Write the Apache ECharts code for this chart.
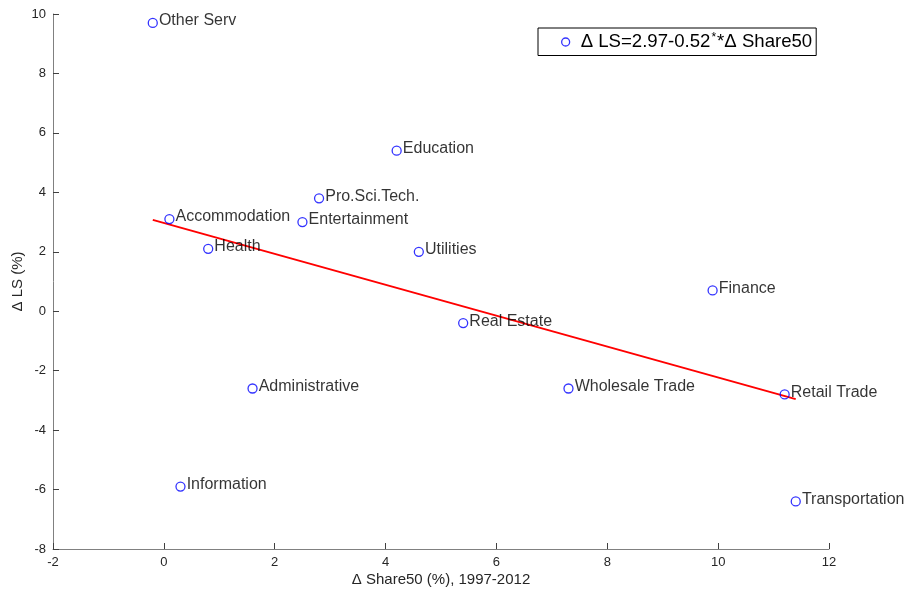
<!DOCTYPE html>
<html><head><meta charset="utf-8">
<script src="https://cdn.jsdelivr.net/npm/echarts@6/dist/echarts.min.js"></script>
<style>html,body{margin:0;padding:0;background:#fff}#c{width:906px;height:590px}</style>
</head><body><div id="c"></div>
<script>
const industries = ["Other Serv","Education","Pro.Sci.Tech.","Entertainment","Accommodation","Health","Utilities","Finance","Real Estate","Retail Trade","Wholesale Trade","Administrative","Information","Transportation"];
const share50Change = [-0.2,4.2,2.8,2.5,0.1,0.8,4.6,9.9,5.4,11.2,7.3,1.6,0.3,11.4];
const lsChange = [9.7,5.4,3.8,3.0,3.1,2.1,2.0,0.7,-0.4,-2.8,-2.6,-2.6,-5.9,-6.4];
const fitIntercept = 2.97, fitSlope = -0.52;
const xTicks = [-2,0,2,4,6,8,10,12];
const yTicks = [-8,-6,-4,-2,0,2,4,6,8,10];

const pts = industries.map((n,i)=>({name:n,value:[share50Change[i],lsChange[i]]}));
const xmin = Math.min(...share50Change), xmax = Math.max(...share50Change);
const fitLine = [[xmin, fitIntercept+fitSlope*xmin],[xmax, fitIntercept+fitSlope*xmax]];
const font = "Liberation Sans, Arial, Helvetica, sans-serif";
const axisCol = '#808080';
const chart = echarts.init(document.getElementById('c'));
chart.setOption({
  animation:false,
  textStyle:{fontFamily:font},
  grid:{left:53,right:77,top:14,bottom:41,containLabel:false,outerBoundsMode:'none'},
  legend:{
    left:538, top:28,
    orient:'horizontal',
    data:[{name:'fit', icon:'circle'}],
    itemWidth:8,itemHeight:8,itemGap:10,
    padding:[4,4,4,23],
    borderColor:'#000',borderWidth:1,backgroundColor:'#fff',
    formatter:()=> 'Δ LS=2.97-0.52{sup|*}*Δ Share50',
    textStyle:{fontSize:18.6,color:'#000',fontFamily:font,padding:[0,0,0,6],
      rich:{sup:{fontSize:12,verticalAlign:'top',padding:[0,1,8,1],color:'#000'}}},
    itemStyle:{color:'#fff',borderColor:'#0000ff',borderWidth:1.3}
  },
  xAxis:{
    type:'value',min:-2,max:12,interval:2,
    name:'Δ Share50 (%), 1997-2012',nameLocation:'middle',nameGap:23,nameMoveOverlap:false,
    nameTextStyle:{fontSize:15,color:'#262626',fontFamily:font},
    axisLine:{show:true,onZero:false,lineStyle:{color:axisCol,width:1}},
    axisTick:{show:true,inside:true,length:6,lineStyle:{color:'#404040'}},
    axisLabel:{fontSize:13,color:'#262626',margin:7,
      formatter:v=>xTicks.includes(v)?String(v):''},
    splitLine:{show:false}
  },
  yAxis:{
    type:'value',min:-8,max:10,interval:2,
    name:'Δ LS (%)',nameLocation:'middle',nameGap:28,nameRotate:90,nameMoveOverlap:false,
    nameTextStyle:{fontSize:15,color:'#262626',fontFamily:font},
    axisLine:{show:true,onZero:false,lineStyle:{color:axisCol,width:1}},
    axisTick:{show:true,inside:true,length:6,lineStyle:{color:'#404040'}},
    axisLabel:{fontSize:13,color:'#262626',margin:7,
      formatter:v=>yTicks.includes(v)?String(v):''},
    splitLine:{show:false}
  },
  series:[
    {
      name:'fit', type:'scatter', data:pts, symbol:'circle', symbolSize:9,
      itemStyle:{color:'rgba(0,0,0,0)',borderColor:'#0000ff',borderWidth:1.3},
      label:{show:true,position:'right',distance:1,offset:[0,-2],
        formatter:p=>p.name,fontSize:16,color:'#000',fontFamily:font},
      emphasis:{disabled:true}, z:3
    },
    {
      name:'line', type:'line', data:fitLine, symbol:'none',
      lineStyle:{color:'#ff0000',width:2}, z:2, silent:true
    }
  ]
});
</script></body></html>
